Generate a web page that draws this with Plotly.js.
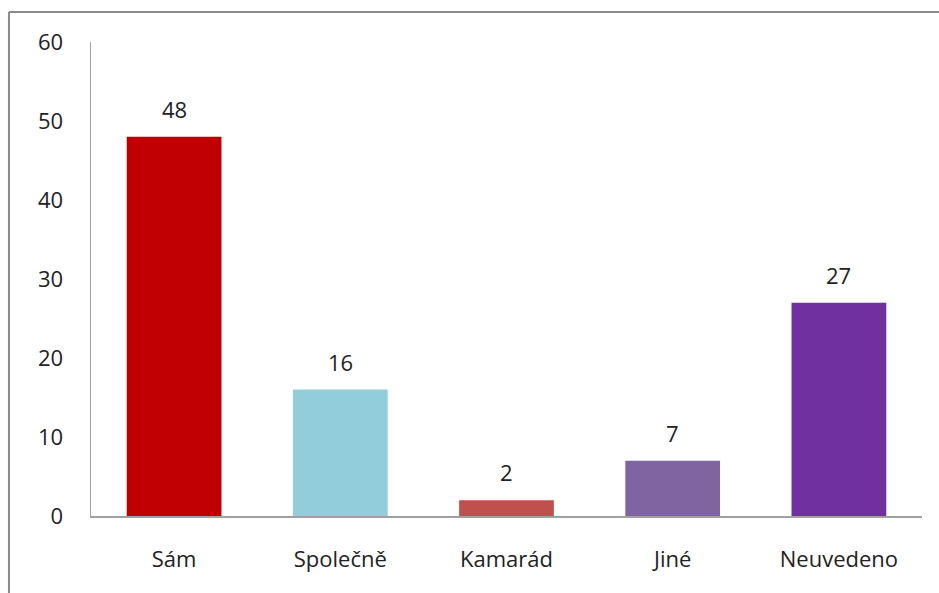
<!DOCTYPE html>
<html><head><meta charset="utf-8">
<script src="https://cdn.plot.ly/plotly-3.0.1.min.js"></script>
<style>html,body{margin:0;padding:0;background:#fff}#chart{width:939px;height:593px}</style>
</head><body><div id="chart"></div>
<script>
const categories = ["Sám", "Společně", "Kamarád", "Jiné", "Neuvedeno"];
const values = [48, 16, 2, 7, 27];
const colors = ["#C00000", "#92CDDC", "#C0504D", "#8064A2", "#7030A0"];
const yTicks = [0, 10, 20, 30, 40, 50, 60];

const font = {family: "Open Sans", size: 22, color: "#222222"};
const data = [{
  type: "bar", x: categories, y: values,
  marker: {color: colors}, width: 0.57, hoverinfo: "none"
}];
const annotations = categories.map((c, i) => ({
  x: c, y: values[i], text: String(values[i]), showarrow: false,
  yanchor: "bottom", yshift: 11, font: font
}));
const frame = "#8a8a8a";
const layout = {
  width: 939, height: 593,
  margin: {l: 91, r: 17, t: 42, b: 77},
  paper_bgcolor: "#fff", plot_bgcolor: "#fff",
  font: font, showlegend: false,
  xaxis: {showline: true, linecolor: "#a0a0a0", linewidth: 1.5, ticks: "", ticklabelstandoff: 23, showgrid: false, tickfont: font},
  yaxis: {range: [0, 60], tickvals: yTicks, showline: true, linecolor: "#a0a0a0", linewidth: 1.5, ticks: "", ticklabelstandoff: 22, showgrid: false, zeroline: false, tickfont: font},
  annotations: annotations,
  shapes: [
    {type: "line", xref: "paper", yref: "paper", x0: -0.0987, x1: -0.0987, y0: -0.2, y1: 1.0633, line: {color: frame, width: 2}},
    {type: "line", xref: "paper", yref: "paper", x0: -0.0987, x1: 1.03, y0: 1.0633, y1: 1.0633, line: {color: frame, width: 2}}
  ]
};
Plotly.newPlot("chart", data, layout, {displayModeBar: false, staticPlot: true});
</script></body></html>
